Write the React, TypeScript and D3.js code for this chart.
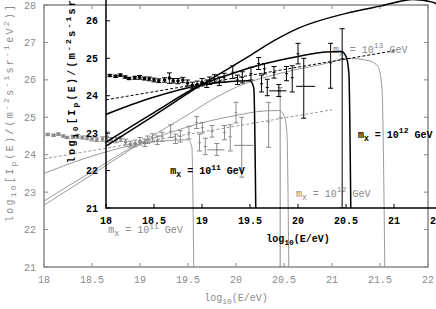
import * as d3 from "d3";

const W = 436;
const H = 309;

const X_TICKS = [18, 18.5, 19, 19.5, 20, 20.5, 21, 21.5, 22];
const Y_TICKS = [21, 22, 23, 24, 25, 26, 27, 28];

// low energy spectrum: [log10 E, log10 flux, error]
const lowData: [number, number, number][] = [
  [18.04, 24.54, 0.03], [18.1, 24.52, 0.03], [18.15, 24.55, 0.03], [18.2, 24.5, 0.03],
  [18.24, 24.46, 0.03], [18.3, 24.48, 0.04], [18.35, 24.49, 0.05], [18.4, 24.46, 0.04],
  [18.45, 24.45, 0.05], [18.5, 24.42, 0.05], [18.55, 24.4, 0.05], [18.61, 24.42, 0.06],
  [18.66, 24.47, 0.14], [18.7, 24.4, 0.06], [18.75, 24.39, 0.07], [18.8, 24.42, 0.07],
  [18.85, 24.34, 0.08], [18.9, 24.28, 0.08], [18.95, 24.3, 0.09], [19.0, 24.36, 0.1],
  [19.05, 24.32, 0.1],
];

// high energy points: [log10 E, value, low, high]
const highData: [number, number, number, number][] = [
  [19.08, 24.4, 24.3, 24.5], [19.13, 24.45, 24.35, 24.56], [19.18, 24.38, 24.27, 24.5],
  [19.23, 24.48, 24.36, 24.6], [19.32, 24.63, 24.46, 24.8], [19.37, 24.42, 24.3, 24.55],
  [19.42, 24.49, 24.34, 24.64], [19.51, 24.59, 24.42, 24.76], [19.59, 24.86, 24.7, 25.02],
  [19.62, 24.32, 24.1, 24.55], [19.65, 24.72, 24.58, 24.86], [19.68, 24.22, 24.0, 24.44],
  [19.75, 24.62, 24.47, 24.78], [19.8, 24.13, 23.98, 24.3], [19.88, 24.59, 24.4, 24.78],
  [19.94, 24.48, 24.1, 24.8], [20.0, 25.12, 24.85, 25.4], [20.06, 24.25, 23.4, 25.0],
  [20.34, 24.88, 24.2, 25.4], [20.46, 24.99, 21.0, 25.79],
];

// energy error bars: [value, xlo, xhi]
const xErrData: [number, number, number][] = [
  [24.13, 19.7, 19.88],
  [24.25, 19.98, 20.18],
];

const dashedFit: [number, number][] = [[18, 23.89], [21, 25.2]];
const curve11: [number, number][] = [
  [18, 23.5], [18.46, 23.93], [18.98, 24.28], [19.3, 24.38], [19.5, 24.4], [19.54, 24.2], [19.56, 21],
];
const curve12: [number, number][] = [
  [18, 22.76], [18.5, 23.55], [19.0, 24.3], [19.3, 24.58], [19.6, 24.82], [20.0, 25.05],
  [20.3, 25.17], [20.45, 25.18], [20.5, 25.05], [20.53, 24.6], [20.55, 21],
];
const curve13: [number, number][] = [
  [18, 22.65], [18.5, 23.47], [19.0, 24.3], [19.5, 25.07], [19.75, 25.47], [20.0, 25.8],
  [20.5, 26.2], [20.87, 26.4], [21.2, 26.57], [21.4, 26.5], [21.48, 26.35], [21.52, 25.8], [21.55, 21],
];

type Part = [string, number]; // 0 normal, -1 sub, 1 sup
const X_LABEL: Part[] = [["log", 0], ["10", -1], ["(E/eV)", 0]];
const Y_LABEL: Part[] = [
  ["log", 0], ["10", -1], ["[I", 0], ["p", -1], ["(E)/(m", 0], ["-2", 1], ["s", 0], ["-1", 1],
  ["sr", 0], ["-1", 1], ["eV", 0], ["2", 1], [")]", 0],
];
const notes: { parts: Part[]; at: [number, number] }[] = [
  { parts: [["m", 0], ["X", -1], [" = 10", 0], ["11", 1], [" GeV", 0]], at: [18.67, 21.9] },
  { parts: [["m", 0], ["X", -1], [" = 10", 0], ["12", 1], [" GeV", 0]], at: [20.625, 22.88] },
  { parts: [["m", 0], ["X", -1], [" = 10", 0], ["13", 1], [" GeV", 0]], at: [21.01, 26.73] },
];

const x = d3.scaleLinear().domain([18, 22]).range([44, 428]);
const y = d3.scaleLinear().domain([21, 28]).range([267, 5]);

function Rich({ parts, fs }: { parts: Part[]; fs: number }) {
  let cur = 0;
  return (
    <>
      {parts.map(([t, s], i) => {
        const off = s === 1 ? -0.45 * fs : s === -1 ? 0.3 * fs : 0;
        const dy = off - cur;
        cur = off;
        return (
          <tspan key={i} dy={dy} fontSize={s === 0 ? fs : fs * 0.8} style={{ whiteSpace: "pre" }}>
            {t}
          </tspan>
        );
      })}
    </>
  );
}

function Panel({ id, dx, dy, ink, lineInk, bold, lw }: {
  id: string; dx: number; dy: number; ink: string; lineInk: string; bold: boolean; lw: number;
}) {
  const line = d3.line<[number, number]>().x((d) => x(d[0])).y((d) => y(d[1])).curve(d3.curveMonotoneX);
  const [x0, x1] = x.range();
  const [y0, y1] = y.range();
  const fs = 10;
  const cap = 2.5;
  return (
    <g transform={`translate(${dx},${dy})`} fontFamily="'Liberation Mono', monospace" fontWeight={bold ? "bold" : "normal"}>
      <defs>
        <clipPath id={id}>
          <rect x={x0} y={y1} width={x1 - x0} height={y0 - y1} />
        </clipPath>
      </defs>
      <g clipPath={`url(#${id})`} fill="none">
        <path d={line(dashedFit) ?? ""} stroke={lineInk} strokeWidth={1} strokeDasharray="3,2" />
        {[curve11, curve12, curve13].map((c, i) => (
          <path key={i} d={line(c) ?? ""} stroke={lineInk} strokeWidth={lw} />
        ))}
        {lowData.map(([e, v, err], i) => (
          <g key={"l" + i} stroke={ink} strokeWidth={1}>
            <line x1={x(e)} x2={x(e)} y1={y(v - err)} y2={y(v + err)} />
            <line x1={x(e) - cap} x2={x(e) + cap} y1={y(v - err)} y2={y(v - err)} />
            <line x1={x(e) - cap} x2={x(e) + cap} y1={y(v + err)} y2={y(v + err)} />
            <circle cx={x(e)} cy={y(v)} r={1.8} fill={ink} stroke="none" />
          </g>
        ))}
        {highData.map(([e, v, lo, hi], i) => (
          <g key={"h" + i} stroke={ink} strokeWidth={1}>
            <line x1={x(e)} x2={x(e)} y1={y(lo)} y2={y(hi)} />
            <line x1={x(e) - cap} x2={x(e) + cap} y1={y(lo)} y2={y(lo)} />
            <line x1={x(e) - cap} x2={x(e) + cap} y1={y(hi)} y2={y(hi)} />
            <line x1={x(e) - 1.5} x2={x(e) + 1.5} y1={y(v)} y2={y(v)} />
          </g>
        ))}
        {xErrData.map(([v, a, b], i) => (
          <line key={"x" + i} x1={x(a)} x2={x(b)} y1={y(v)} y2={y(v)} stroke={ink} strokeWidth={1} />
        ))}
      </g>
      <rect x={x0} y={y1} width={x1 - x0} height={y0 - y1} fill="none" stroke={ink} strokeWidth={1.5} />
      {X_TICKS.map((t) => (
        <g key={"xt" + t}>
          <line x1={x(t)} x2={x(t)} y1={y0} y2={y0 - 4} stroke={ink} />
          <line x1={x(t)} x2={x(t)} y1={y1} y2={y1 + 4} stroke={ink} />
          <text x={x(t)} y={y0 + 16} textAnchor="middle" fontSize={fs} fill={ink}>
            {String(t)}
          </text>
        </g>
      ))}
      {Y_TICKS.map((t) => (
        <g key={"yt" + t}>
          <line x1={x0} x2={x0 + 4} y1={y(t)} y2={y(t)} stroke={ink} />
          <line x1={x1} x2={x1 - 4} y1={y(t)} y2={y(t)} stroke={ink} />
          <text x={x0 - 8} y={y(t) + 3.5} textAnchor="end" fontSize={fs} fill={ink}>
            {String(t)}
          </text>
        </g>
      ))}
      <text x={(x0 + x1) / 2} y={y0 + 34} textAnchor="middle" fontSize={fs} fill={ink}>
        <Rich parts={X_LABEL} fs={fs} />
      </text>
      <text
        transform={`translate(${x0 - 31},${y0 - 45}) rotate(-90)`}
        textAnchor="start"
        fontSize={fs}
        fill={ink}
        textLength={217}
        lengthAdjust="spacing"
      >
        <Rich parts={Y_LABEL} fs={fs} />
      </text>
      {notes.map((n, i) => (
        <text key={"n" + i} x={x(n.at[0])} y={y(n.at[1])} fontSize={fs} fill={ink}>
          <Rich parts={n.parts} fs={fs} />
        </text>
      ))}
    </g>
  );
}

export default function App() {
  return (
    <svg width={W} height={H} style={{ display: "block", position: "fixed", left: 0, top: 0 }}>
      <rect width={W} height={H} fill="#fff" />
      <Panel id="outer" dx={0} dy={0} ink="#8a8a8a" lineInk="#9a9a9a" bold={false} lw={1} />
      <Panel id="inner" dx={62} dy={-59} ink="#000" lineInk="#000" bold={true} lw={1.5} />
    </svg>
  );
}
